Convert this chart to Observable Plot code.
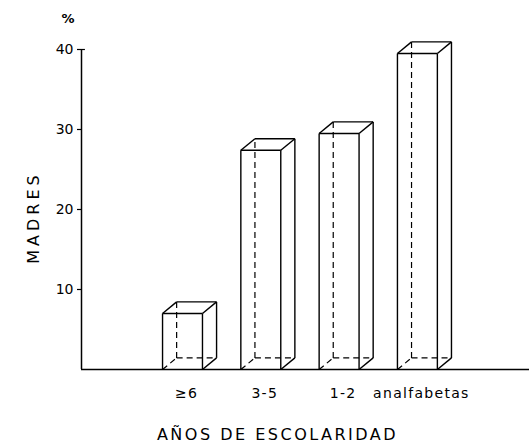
<!DOCTYPE html>
<html><head><meta charset="utf-8">
<script src="https://cdn.jsdelivr.net/npm/d3@7"></script>
<script src="https://cdn.jsdelivr.net/npm/@observablehq/plot@0.6"></script>
<style>body{margin:0;background:#fff}</style>
</head><body><div id="chart"></div>
<script>
const categories = ["≥6", "3-5", "1-2", "analfabetas"];
const values = [7.0, 27.4, 29.5, 39.5];
const yTicks = [10, 20, 30, 40];
const xTitle = "AÑOS DE ESCOLARIDAD";
const yTitle = "MADRES";
const yUnit = "%";

// layout in category units (1 unit = spacing between bars)
const first = 1.29, half = 0.255, dX = 0.18, dY = 1.45;
const boxes = categories.map((c, i) => ({c, v: values[i], L: first + i - half, R: first + i + half}));
const seg = (x1, y1, x2, y2) => ({x1, y1, x2, y2});
const solid = boxes.flatMap(b => [
  seg(b.L, 0, b.L, b.v), seg(b.R, 0, b.R, b.v), seg(b.L, b.v, b.R, b.v),
  seg(b.L + dX, b.v + dY, b.R + dX, b.v + dY),
  seg(b.L, b.v, b.L + dX, b.v + dY), seg(b.R, b.v, b.R + dX, b.v + dY),
  seg(b.R + dX, dY, b.R + dX, b.v + dY), seg(b.R, 0, b.R + dX, dY)
]);
const dashed = boxes.flatMap(b => [
  seg(b.L + dX, dY, b.L + dX, b.v + dY), seg(b.L + dX, dY, b.R + dX, dY), seg(b.L, 0, b.L + dX, dY)
]);

const font = "DejaVu Sans";
const chart = Plot.plot({
  width: 529, height: 447,
  marginLeft: 81, marginRight: 0, marginTop: 49, marginBottom: 78,
  style: {fontFamily: font, fontSize: "14px", background: "#fff", color: "#000"},
  x: {type: "linear", domain: [0, 448 / 78.3], axis: null},
  y: {domain: [0, 40], axis: null},
  marks: [
    Plot.axisY({ticks: yTicks, tickSize: 4, tickPadding: 4, label: null, fontSize: 14, strokeWidth: 1.2}),
    Plot.ruleX([0], {y1: 0, y2: 40, strokeWidth: 1.5}),
    Plot.ruleY([40], {x1: 0, x2: 0.05, strokeWidth: 1.2}),
    Plot.ruleY([0], {strokeWidth: 1.5}),
    Plot.link(solid, {x1: "x1", y1: "y1", x2: "x2", y2: "y2", stroke: "#000", strokeWidth: 1.4}),
    Plot.link(dashed, {x1: "x1", y1: "y1", x2: "x2", y2: "y2", stroke: "#000", strokeWidth: 1.2, strokeDasharray: "6,4"}),
    Plot.text(boxes, {x: d => (d.L + d.R) / 2, y: 0, dy: 24, dx: 4, text: "c", fontSize: 14}),
    Plot.text([xTitle], {frameAnchor: "bottom", dy: 70, dx: -28, fontSize: 16}),
    Plot.text([yTitle], {x: -0.613, y: 19, rotate: -90, fontSize: 16}),
    Plot.text([yUnit], {frameAnchor: "top-left", dx: -20, dy: -36, fontSize: 13, fontWeight: "bold"})
  ]
});
document.getElementById("chart").appendChild(chart);
d3.select(chart).selectAll("text").filter(function() { return this.textContent === xTitle; })
  .style("letter-spacing", "2.5px");
d3.select(chart).selectAll("text").filter(function() { return this.textContent === yTitle; })
  .style("letter-spacing", "4px");
d3.select(chart).selectAll("text").filter(function() { return categories.includes(this.textContent); })
  .style("letter-spacing", "1.3px");
</script>
</body></html>
